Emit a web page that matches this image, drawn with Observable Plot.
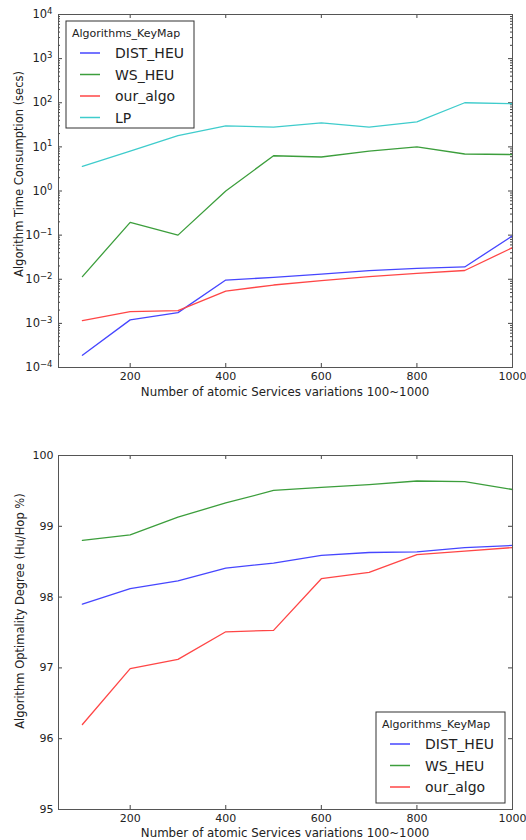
<!DOCTYPE html>
<html><head><meta charset="utf-8">
<script src="https://cdn.jsdelivr.net/npm/d3@7"></script>
<script src="https://cdn.jsdelivr.net/npm/@observablehq/plot@0.6"></script>
<style>body{margin:0;background:#fff;} #c{width:526px;height:840px;overflow:hidden} svg{display:block}</style>
</head><body><div id="c"></div>
<script>
const xs = [100, 200, 300, 400, 500, 600, 700, 800, 900, 1000];
const timeNames = ["DIST_HEU", "WS_HEU", "our_algo", "LP"];
const timeDIST = [0.00019, 0.0012, 0.00175, 0.0096, 0.011, 0.013, 0.0157, 0.0177, 0.019, 0.096];
const timeWS = [0.0115, 0.195, 0.1, 1.0, 6.3, 5.9, 8.0, 10.0, 6.9, 6.7];
const timeOur = [0.00115, 0.00184, 0.00194, 0.0054, 0.0074, 0.0093, 0.0115, 0.0136, 0.0158, 0.052];
const timeLP = [3.6, 8.0, 18, 30, 28, 35, 28, 37, 100, 95];
const optNames = ["DIST_HEU", "WS_HEU", "our_algo"];
const optDIST = [97.9, 98.12, 98.23, 98.41, 98.48, 98.59, 98.63, 98.64, 98.70, 98.73];
const optWS = [98.8, 98.88, 99.13, 99.33, 99.506, 99.55, 99.59, 99.64, 99.63, 99.52];
const optOur = [96.2, 96.99, 97.12, 97.51, 97.53, 98.26, 98.35, 98.60, 98.65, 98.70];
const xTicks = [200, 400, 600, 800, 1000];
const timeTicks = [1e-4, 1e-3, 1e-2, 1e-1, 1, 10, 100, 1000, 10000];
const optTicks = [95, 96, 97, 98, 99, 100];
const seriesColors = ["#4646ff", "#3c9e3c", "#ff4646", "#3fcccc"];
const xLabel = "Number of atomic Services variations 100~1000";
const timeLabel = "Algorithm Time Consumption (secs)";
const optLabel = "Algorithm Optimality Degree (Hu/Hop %)";
const legendTitle = "Algorithms_KeyMap";

function toLong(names, arrays) {
  const out = [];
  names.forEach((n, i) => arrays[i].forEach((v, j) => out.push({series: n, x: xs[j], v})));
  return out;
}
const expFormat = d => "10|" + String(Math.round(Math.log10(d))).replace("-", "\u2212");

const minorTicks = [];
for (let k = -4; k < 4; k++) for (let m = 2; m <= 9; m++) minorTicks.push(m * Math.pow(10, k));

const W = 526, mL = 58, mR = 14;
const FONT = "DejaVu Sans";

function chart({data, names, yType, yDomain, yTicks, yMinor, tickFormat, height, marginTop, marginBottom, yPad}) {
  const iw = W - mL - mR, ih = height - marginTop - marginBottom;
  const tc = "#444";
  const marks = [
    Plot.tickX(xTicks, {x: d => d, insetTop: ih - 4, stroke: tc}),
    Plot.tickX(xTicks, {x: d => d, insetBottom: ih - 4, stroke: tc}),
    Plot.tickY(yTicks, {y: d => d, insetRight: iw - 4, stroke: tc}),
    Plot.tickY(yTicks, {y: d => d, insetLeft: iw - 4, stroke: tc}),
  ];
  if (yMinor) {
    marks.push(Plot.tickY(yMinor, {y: d => d, insetRight: iw - 2, stroke: tc}));
    marks.push(Plot.tickY(yMinor, {y: d => d, insetLeft: iw - 2, stroke: tc}));
  }
  marks.push(
    Plot.line(data, {x: "x", y: "v", stroke: "series", strokeWidth: 1.3}),
    Plot.frame({stroke: "#555", strokeWidth: 1}),
    Plot.axisX(xTicks, {tickSize: 0, tickPadding: 5, label: null, fill: "#222", tickFormat: d => String(d)}),
    Plot.axisY(yTicks, {tickSize: 0, tickPadding: yPad, tickFormat, label: null, fill: "#222"})
  );
  const svg = Plot.plot({
    width: W, height, marginLeft: mL, marginRight: mR, marginTop, marginBottom,
    style: {fontFamily: FONT, fontSize: "11px", color: "#222", background: "white"},
    x: {domain: [50, 1000]},
    y: {type: yType, domain: yDomain},
    color: {domain: names, range: seriesColors.slice(0, names.length)},
    marks
  });
  // render "10|k" as 10 with a superscript exponent
  d3.select(svg).selectAll("text").each(function () {
    const t = this.textContent;
    if (/^10\|/.test(t)) {
      const e = t.split("|")[1];
      const s = d3.select(this);
      s.text("10").attr("font-size", 11.5);
      s.append("tspan").attr("dy", "-0.5em").attr("font-size", 8.5).text(e);
    }
  });
  return svg;
}

function legend(svg, names, x, y, w, h) {
  const g = d3.select(svg).append("g").attr("font-family", FONT).attr("text-anchor", "start");
  g.append("rect").attr("x", x).attr("y", y).attr("width", w).attr("height", h)
    .attr("fill", "white").attr("stroke", "#333").attr("stroke-width", 1);
  g.append("text").attr("x", x + 6).attr("y", y + 16).attr("font-size", 11).attr("fill", "#222").text(legendTitle);
  names.forEach((n, i) => {
    const yy = y + 32 + i * 21.5;
    g.append("line").attr("x1", x + 14).attr("x2", x + 34).attr("y1", yy).attr("y2", yy)
      .attr("stroke", seriesColors[i]).attr("stroke-width", 1.5);
    g.append("text").attr("x", x + 49).attr("y", yy + 5).attr("font-size", 14).attr("fill", "#222").text(n);
  });
}

function labels(svg, xl, xlY, yl, ylX, ylY) {
  const s = d3.select(svg);
  s.append("text").attr("x", (mL + W - mR) / 2).attr("y", xlY).attr("text-anchor", "middle")
    .attr("font-family", FONT).attr("font-size", 11.8).attr("fill", "#222").text(xl);
  s.append("text").attr("transform", `translate(${ylX},${ylY}) rotate(-90)`).attr("text-anchor", "middle")
    .attr("font-family", FONT).attr("font-size", 11.5).attr("fill", "#222").text(yl);
}

const topChart = chart({
  data: toLong(timeNames, [timeDIST, timeWS, timeOur, timeLP]), names: timeNames,
  yType: "log", yDomain: [1e-4, 1e4], yTicks: timeTicks, yMinor: minorTicks, tickFormat: expFormat,
  height: 415, marginTop: 14, marginBottom: 48, yPad: 6
});
legend(topChart, timeNames, 66, 21, 128, 107);
labels(topChart, xLabel, 396, timeLabel, 23, 174);

const bottomChart = chart({
  data: toLong(optNames, [optDIST, optWS, optOur]), names: optNames,
  yType: "linear", yDomain: [95, 100], yTicks: optTicks, yMinor: null, tickFormat: d => String(d),
  height: 425, marginTop: 40, marginBottom: 31, yPad: 5
});
legend(bottomChart, optNames, 376, 297, 129, 91);
labels(bottomChart, xLabel, 422, optLabel, 24, 196);

document.getElementById("c").append(topChart, bottomChart);
</script>
</body></html>
